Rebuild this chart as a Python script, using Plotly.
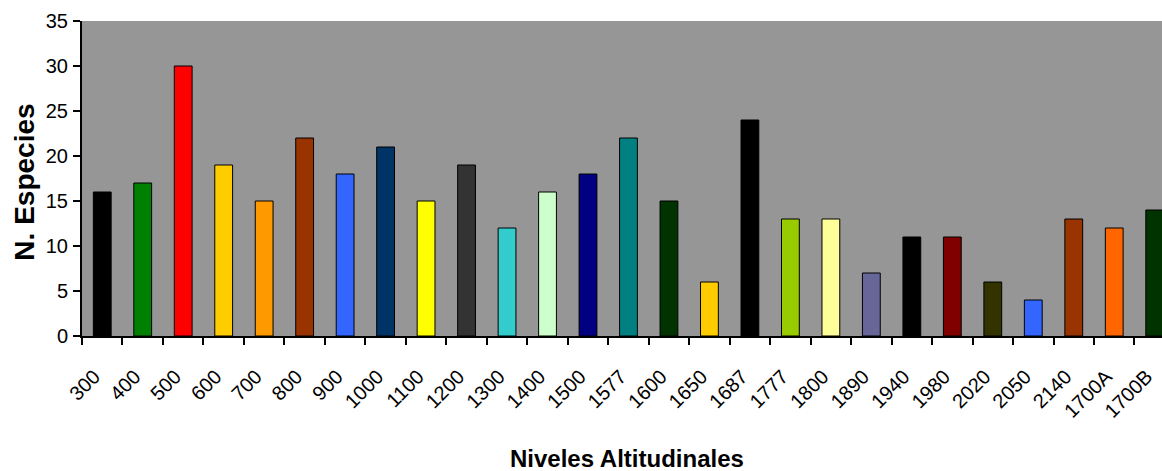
import plotly.graph_objects as go

categories = ["300", "400", "500", "600", "700", "800", "900", "1000", "1100", "1200",
              "1300", "1400", "1500", "1577", "1600", "1650", "1687", "1777", "1800",
              "1890", "1940", "1980", "2020", "2050", "2140", "1700A", "1700B"]
species = [16, 17, 30, 19, 15, 22, 18, 21, 15, 19,
           12, 16, 18, 22, 15, 6, 24, 13, 13,
           7, 11, 11, 6, 4, 13, 12, 14]
bar_colors = ["#000000", "#008000", "#FF0000", "#FFCC00", "#FF9900", "#993300", "#3366FF",
              "#003366", "#FFFF00", "#333333", "#33CCCC", "#CCFFCC", "#000080", "#008080",
              "#003300", "#FFCC00", "#000000", "#99CC00", "#FFFF99", "#666699", "#000000",
              "#800000", "#333300", "#3366FF", "#993300", "#FF6600", "#003300"]
y_ticks = [0, 5, 10, 15, 20, 25, 30, 35]

FONT = "Arial, 'Liberation Sans', sans-serif"

fig = go.Figure(go.Bar(
    x=categories, y=species,
    marker=dict(color=bar_colors, line=dict(color="#000000", width=1)),
    width=0.44,
))

fig.update_layout(
    width=1162, height=471,
    margin=dict(l=82, r=0, t=21, b=135),
    paper_bgcolor="white",
    plot_bgcolor="#969696",
    showlegend=False,
    font=dict(family=FONT, color="black", size=20),
    xaxis=dict(
        type="category",
        range=[-0.5, 26.18],
        showline=True, linecolor="black", linewidth=2,
        ticks="outside", tickson="boundaries", ticklen=7, tickwidth=2, tickcolor="black",
        tickangle=-45, tickfont=dict(size=20, family=FONT),
        ticklabelstandoff=19, ticklabelshift=-8,
        showgrid=False, zeroline=False,
    ),
    yaxis=dict(
        range=[0, 35],
        tickvals=y_ticks,
        showline=True, linecolor="black", linewidth=2,
        ticks="outside", ticklen=7, tickwidth=2, tickcolor="black",
        tickfont=dict(size=20, family=FONT),
        ticklabelstandoff=1,
        showgrid=False, zeroline=False,
    ),
    annotations=[
        dict(text="<b>N. Especies</b>", textangle=-90, xref="paper", yref="paper",
             x=-0.0528, y=0.49, xanchor="center", yanchor="middle", showarrow=False,
             font=dict(size=28, family=FONT, color="black")),
        dict(text="<b>Niveles Altitudinales</b>", xref="paper", yref="paper",
             x=0.505, y=-0.39, xanchor="center", yanchor="middle", showarrow=False,
             font=dict(size=24, family=FONT, color="black")),
    ],
)

fig.write_html(
    "out.html",
    config={"displayModeBar": False},
    post_script="document.body.style.margin='0';document.body.style.overflow='hidden';",
)
